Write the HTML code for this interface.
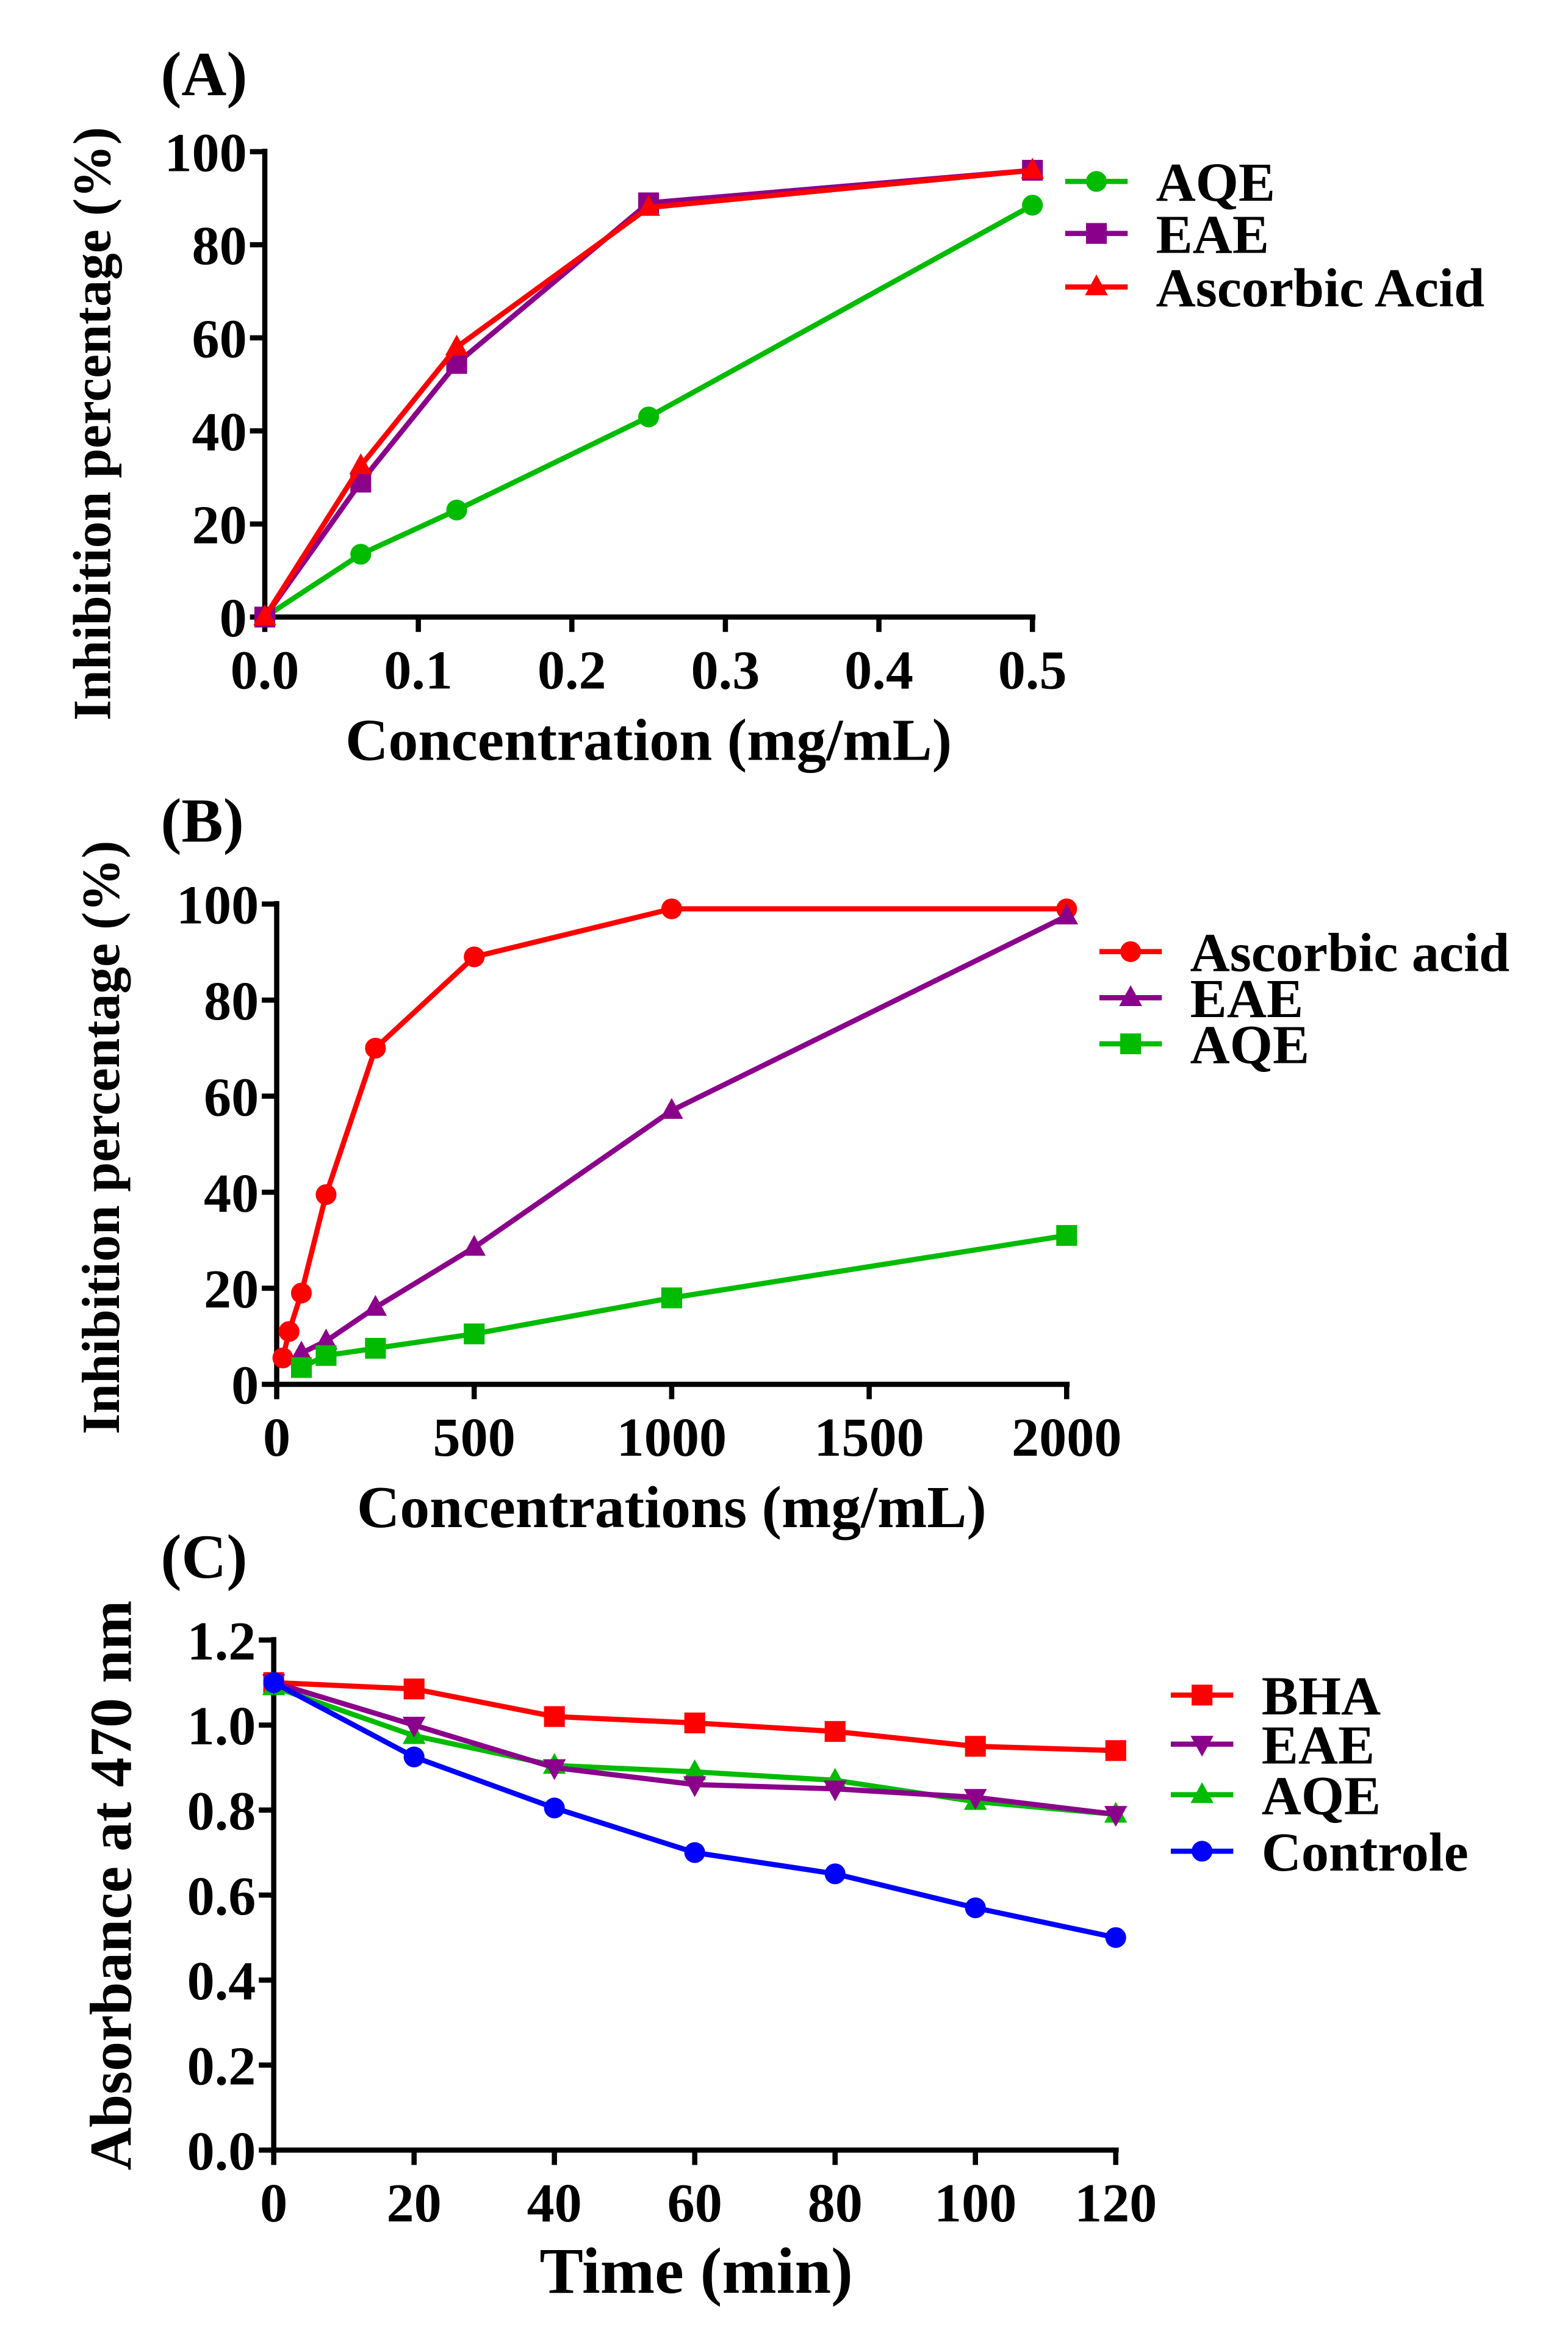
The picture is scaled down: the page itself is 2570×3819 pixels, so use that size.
<!DOCTYPE html>
<html><head><meta charset="utf-8"><style>
html,body{margin:0;padding:0;background:#fff}
svg{display:block}
text{font-family:"Liberation Serif",serif;font-weight:bold;fill:#000}
</style></head><body>
<svg id="fig" width="2570" height="3819" viewBox="0 0 1054 1567" preserveAspectRatio="none" xmlns="http://www.w3.org/2000/svg"></svg>
<script>
// Panel A data
const aX = [0, 0.0625, 0.125, 0.25, 0.5];
const aAQE = [0, 13.5, 23, 43, 88.5];
const aEAE = [0, 29, 54.5, 89, 96];
const aAA = [0, 32.5, 58, 88, 96];
const aXTicks = [0, 0.1, 0.2, 0.3, 0.4, 0.5];
const aXTickLabels = ["0.0","0.1","0.2","0.3","0.4","0.5"];
const aYTicks = [0, 20, 40, 60, 80, 100];
// Panel B data
const bXAA = [15.6, 31.25, 62.5, 125, 250, 500, 1000, 2000];
const bAA = [5.5, 11, 19, 39.5, 70, 89, 99, 99];
const bX = [62.5, 125, 250, 500, 1000, 2000];
const bEAE = [6.5, 9, 16, 28.5, 57, 97.5];
const bAQE = [3.5, 6, 7.5, 10.5, 18, 31];
const bXTicks = [0, 500, 1000, 1500, 2000];
const bYTicks = [0, 20, 40, 60, 80, 100];
// Panel C data
const cX = [0, 20, 40, 60, 80, 100, 120];
const cBHA = [1.10, 1.085, 1.02, 1.005, 0.985, 0.95, 0.94];
const cEAE = [1.10, 1.0, 0.90, 0.86, 0.85, 0.83, 0.79];
const cAQE = [1.09, 0.975, 0.905, 0.89, 0.87, 0.82, 0.79];
const cCtrl = [1.10, 0.925, 0.805, 0.70, 0.65, 0.57, 0.50];
const cXTicks = [0, 20, 40, 60, 80, 100, 120];
const cYTicks = [0, 0.2, 0.4, 0.6, 0.8, 1.0, 1.2];

const NS = "http://www.w3.org/2000/svg";
const svg = document.getElementById('fig');
function el(tag, attrs, parent, txt) {
  const e = document.createElementNS(NS, tag);
  for (const k in attrs) e.setAttribute(k, attrs[k]);
  if (txt !== undefined) e.textContent = txt;
  (parent || svg).appendChild(e);
  return e;
}
function marker(g, shape, x, y, color, s) {
  let m;
  if (shape === 'circle') m = el('circle', {cx:x, cy:y, r:s, fill:color}, g);
  else if (shape === 'square') m = el('rect', {x:x-s, y:y-s, width:2*s, height:2*s, fill:color}, g);
  else if (shape === 'tri') m = el('polygon', {points:`${x},${y-s*1.2} ${x-s*1.1},${y+s*0.8} ${x+s*1.1},${y+s*0.8}`, fill:color}, g);
  else m = el('polygon', {points:`${x},${y+s*1.2} ${x-s*1.1},${y-s*0.8} ${x+s*1.1},${y-s*0.8}`, fill:color}, g);
  return m;
}
function panel(cfg) {
  const g = el('g', {});
  
  
  const sx = v => cfg.x0 + (v - cfg.xmin) / (cfg.xmax - cfg.xmin) * (cfg.x1 - cfg.x0);
  const sy = v => cfg.y0 + (v - cfg.ymin) / (cfg.ymax - cfg.ymin) * (cfg.y1 - cfg.y0);
  const ax = el('g', {}, g);
  
  
  el('line', {x1:cfg.x0, y1:cfg.y0, x2:cfg.x0, y2:cfg.y1-2, stroke:'#000','stroke-width':3.5}, ax);
  el('line', {x1:cfg.x0-2, y1:cfg.y0, x2:cfg.x1+2, y2:cfg.y0, stroke:'#000','stroke-width':3.5}, ax);
  cfg.yTicks.forEach((t,i) => {
    const y = sy(t);
    el('line', {x1:cfg.x0-10, y1:y, x2:cfg.x0, y2:y, stroke:'#000','stroke-width':3.5}, ax);
    const tl = el('text', {x:cfg.x0-12, y:y+13, 'text-anchor':'end','font-size':37}, ax, cfg.yLabels ? cfg.yLabels[i] : String(t));
    
    
  });
  cfg.xTicks.forEach((t,i) => {
    const x = sx(t);
    el('line', {x1:x, y1:cfg.y0, x2:x, y2:cfg.y0+10, stroke:'#000','stroke-width':3.5}, ax);
    const tl = el('text', {x:x, y:cfg.y0+48, 'text-anchor':'middle','font-size':37}, ax, cfg.xLabels ? cfg.xLabels[i] : String(t));
    
    
  });
  const xt = el('text', {x:(cfg.x0+cfg.x1)/2 + (cfg.xtDx||0), y:cfg.y0+96, 'text-anchor':'middle','font-size':cfg.xtSize}, g, cfg.xTitle);
  
  
  const yt = el('text', {x:0, y:0, 'text-anchor':'middle','font-size':cfg.ytSize,
    transform:`translate(${cfg.ytX},${cfg.ytY}) rotate(-90)`}, g, cfg.yTitle);
  
  
  const pl = el('text', {x:cfg.labX, y:cfg.labY, 'font-size':42}, g, cfg.label);
  
  
  cfg.series.forEach(s => {
    const sg = el('g', {}, g);
    
    
    const pts = s.xs.map((x,i) => `${sx(x)},${sy(s.ys[i])}`).join(' ');
    el('polyline', {points:pts, fill:'none', stroke:s.color, 'stroke-width':3.5}, sg);
    s.xs.forEach((x,i) => {
      const m = marker(sg, s.shape, sx(x), sy(s.ys[i]), s.color, 7);
      
      
    });
  });
  cfg.legend.forEach((s,i) => {
    const lg = el('g', {}, g);
    
    
    const y = cfg.legY[i];
    el('line', {x1:cfg.legX-21, y1:y, x2:cfg.legX+21, y2:y, stroke:s.color, 'stroke-width':3.5}, lg);
    marker(lg, s.shape, cfg.legX, y, s.color, 7);
    el('text', {x:cfg.legX+40, y:y+13, 'font-size':37}, lg, s.label);
  });
}
const R='#ff0000', P='#8b008b', G='#00bb00', B='#0000ff';
panel({name:'panel-a', x0:178, x1:694, xmin:0, xmax:0.5, y0:415, y1:102, ymin:0, ymax:100,
  xTicks:aXTicks, xLabels:aXTickLabels, yTicks:aYTicks,
  xTitle:'Concentration (mg/mL)', xtSize:40, yTitle:'Inhibition percentage (%)', ytSize:36, ytX:74, ytY:285,
  label:'(A)', labX:108, labY:64,
  series:[
    {key:'aqe', xs:aX, ys:aAQE, color:G, shape:'circle'},
    {key:'eae', xs:aX, ys:aEAE, color:P, shape:'square'},
    {key:'ascorbic-acid', xs:aX, ys:aAA, color:R, shape:'tri'}],
  legend:[{label:'AQE',color:G,shape:'circle'},{label:'EAE',color:P,shape:'square'},{label:'Ascorbic Acid',color:R,shape:'tri'}],
  legX:737, legY:[122,157,193]});
panel({name:'panel-b', x0:186, x1:717, xmin:0, xmax:2000, y0:931, y1:608, ymin:0, ymax:100,
  xTicks:bXTicks, yTicks:bYTicks,
  xTitle:'Concentrations (mg/mL)', xtSize:40, yTitle:'Inhibition percentage (%)', ytSize:36, ytX:80, ytY:765,
  label:'(B)', labX:108, labY:566,
  series:[
    {key:'ascorbic-acid', xs:bXAA, ys:bAA, color:R, shape:'circle'},
    {key:'eae', xs:bX, ys:bEAE, color:P, shape:'tri'},
    {key:'aqe', xs:bX, ys:bAQE, color:G, shape:'square'}],
  legend:[{label:'Ascorbic acid',color:R,shape:'circle'},{label:'EAE',color:P,shape:'tri'},{label:'AQE',color:G,shape:'square'}],
  legX:760, legY:[640,671,702]});
panel({name:'panel-c', x0:184, x1:750, xmin:0, xmax:120, y0:1446, y1:1103, ymin:0, ymax:1.2,
  xTicks:cXTicks, yTicks:cYTicks, yLabels:cYTicks.map(v=>v.toFixed(1)),
  xTitle:'Time (min)', xtSize:44, xtDx:1, yTitle:'Absorbance at 470 nm', ytSize:40, ytX:88, ytY:1268,
  label:'(C)', labX:108, labY:1061,
  series:[
    {key:'bha', xs:cX, ys:cBHA, color:R, shape:'square'},
    {key:'aqe', xs:cX, ys:cAQE, color:G, shape:'tri'},
    {key:'eae', xs:cX, ys:cEAE, color:P, shape:'dtri'},
    {key:'controle', xs:cX, ys:cCtrl, color:B, shape:'circle'}],
  legend:[{label:'BHA',color:R,shape:'square'},{label:'EAE',color:P,shape:'dtri'},{label:'AQE',color:G,shape:'tri'},{label:'Controle',color:B,shape:'circle'}],
  legX:808, legY:[1140,1173,1207,1245]});
</script>
</body></html>
